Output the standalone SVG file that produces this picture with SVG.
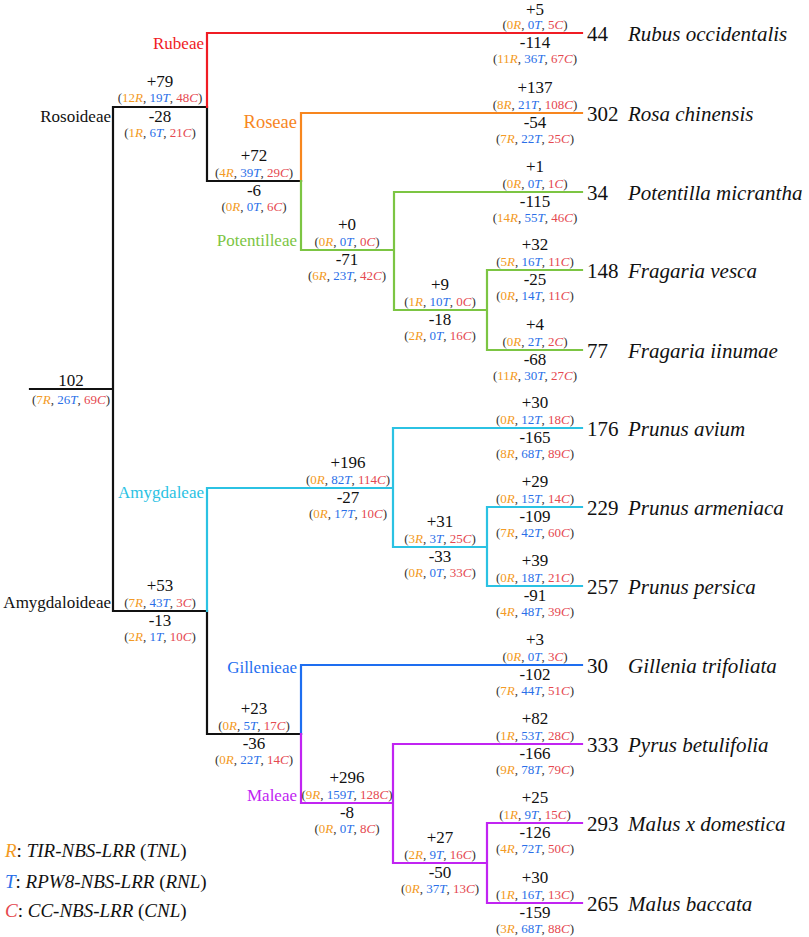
<svg xmlns="http://www.w3.org/2000/svg" width="809" height="937" viewBox="0 0 809 937">
<style>
text{font-family:"Liberation Serif","Times New Roman",serif;fill:#111}
.n{font-size:17px;text-anchor:middle}
.s{font-size:13px;text-anchor:middle;fill:#333}
.i{font-style:italic}
.r{fill:#f39a24}
.t{fill:#2a6fe8}
.c{fill:#e5484f}
.cnt{font-size:21px}
.sp{font-size:21px;font-style:italic}
.cl{font-size:17px;text-anchor:end}
.lg{font-size:19px}
.ln{fill:none;stroke-width:2.2;stroke-linecap:square}
</style>
<g id="connectors">
<path class="ln" stroke="#111" d="M30,389H113M113,107V611M113,107H207V181H301M113,611H207V734H301"/>
<path class="ln" stroke="#f01c24" d="M207,107V33H582"/>
<path class="ln" stroke="#f7861e" d="M301,181V113H582"/>
<path class="ln" stroke="#7cc543" d="M301,181V250H394M394,192V310M394,192H582M394,310H487M487,270V350M487,270H582M487,350H582"/>
<path class="ln" stroke="#2bc2e3" d="M207,611V488H393M393,428V547M393,428H582M393,547H487M487,507V586M487,507H582M487,586H582"/>
<path class="ln" stroke="#1e6ef0" d="M301,734V665H582"/>
<path class="ln" stroke="#c124f2" d="M301,734V803H393M393,744V863M393,744H582M393,863H487M487,823V903M487,823H582M487,903H582"/>
</g>
<g id="clade-labels">
<text class="cl" x="204" y="49" style="fill:#f01c24">Rubeae</text>
<text class="cl" x="111" y="122">Rosoideae</text>
<text class="cl" x="297" y="128" style="fill:#f7861e;font-size:18.5px">Roseae</text>
<text class="cl" x="297" y="246" style="fill:#7cc543">Potentilleae</text>
<text class="cl" x="204" y="498" style="fill:#2bc2e3">Amygdaleae</text>
<text class="cl" x="111" y="608">Amygdaloideae</text>
<text class="cl" x="297" y="673" style="fill:#1e6ef0">Gillenieae</text>
<text class="cl" x="297" y="801" style="fill:#c124f2">Maleae</text>
</g>
<g id="root">
<text class="n" x="71" y="386">102</text>
<text class="s" x="71" y="404">(<tspan class="r">7<tspan class="i">R</tspan></tspan>, <tspan class="t">26<tspan class="i">T</tspan></tspan>, <tspan class="c">69<tspan class="i">C</tspan></tspan>)</text>
</g>
<g id="rosoideae">
<text class="n" x="160" y="87">+79</text>
<text class="s" x="160" y="102">(<tspan class="r">12<tspan class="i">R</tspan></tspan>, <tspan class="t">19<tspan class="i">T</tspan></tspan>, <tspan class="c">48<tspan class="i">C</tspan></tspan>)</text>
<text class="n" x="160" y="122">-28</text>
<text class="s" x="160" y="137">(<tspan class="r">1<tspan class="i">R</tspan></tspan>, <tspan class="t">6<tspan class="i">T</tspan></tspan>, <tspan class="c">21<tspan class="i">C</tspan></tspan>)</text>
</g>
<g id="node-roseae-potentilleae">
<text class="n" x="254" y="161">+72</text>
<text class="s" x="254" y="176.5">(<tspan class="r">4<tspan class="i">R</tspan></tspan>, <tspan class="t">39<tspan class="i">T</tspan></tspan>, <tspan class="c">29<tspan class="i">C</tspan></tspan>)</text>
<text class="n" x="254" y="195.5">-6</text>
<text class="s" x="254" y="211">(<tspan class="r">0<tspan class="i">R</tspan></tspan>, <tspan class="t">0<tspan class="i">T</tspan></tspan>, <tspan class="c">6<tspan class="i">C</tspan></tspan>)</text>
</g>
<g id="potentilleae">
<text class="n" x="347" y="230">+0</text>
<text class="s" x="347" y="245.5">(<tspan class="r">0<tspan class="i">R</tspan></tspan>, <tspan class="t">0<tspan class="i">T</tspan></tspan>, <tspan class="c">0<tspan class="i">C</tspan></tspan>)</text>
<text class="n" x="347" y="264.5">-71</text>
<text class="s" x="347" y="280">(<tspan class="r">6<tspan class="i">R</tspan></tspan>, <tspan class="t">23<tspan class="i">T</tspan></tspan>, <tspan class="c">42<tspan class="i">C</tspan></tspan>)</text>
</g>
<g id="fragaria">
<text class="n" x="440" y="290">+9</text>
<text class="s" x="440" y="305.5">(<tspan class="r">1<tspan class="i">R</tspan></tspan>, <tspan class="t">10<tspan class="i">T</tspan></tspan>, <tspan class="c">0<tspan class="i">C</tspan></tspan>)</text>
<text class="n" x="440" y="324.5">-18</text>
<text class="s" x="440" y="340">(<tspan class="r">2<tspan class="i">R</tspan></tspan>, <tspan class="t">0<tspan class="i">T</tspan></tspan>, <tspan class="c">16<tspan class="i">C</tspan></tspan>)</text>
</g>
<g id="amygdaleae">
<text class="n" x="348" y="468">+196</text>
<text class="s" x="348" y="483.5">(<tspan class="r">0<tspan class="i">R</tspan></tspan>, <tspan class="t">82<tspan class="i">T</tspan></tspan>, <tspan class="c">114<tspan class="i">C</tspan></tspan>)</text>
<text class="n" x="348" y="502.5">-27</text>
<text class="s" x="348" y="518">(<tspan class="r">0<tspan class="i">R</tspan></tspan>, <tspan class="t">17<tspan class="i">T</tspan></tspan>, <tspan class="c">10<tspan class="i">C</tspan></tspan>)</text>
</g>
<g id="prunus-node">
<text class="n" x="440" y="527">+31</text>
<text class="s" x="440" y="542.5">(<tspan class="r">3<tspan class="i">R</tspan></tspan>, <tspan class="t">3<tspan class="i">T</tspan></tspan>, <tspan class="c">25<tspan class="i">C</tspan></tspan>)</text>
<text class="n" x="440" y="561.5">-33</text>
<text class="s" x="440" y="577">(<tspan class="r">0<tspan class="i">R</tspan></tspan>, <tspan class="t">0<tspan class="i">T</tspan></tspan>, <tspan class="c">33<tspan class="i">C</tspan></tspan>)</text>
</g>
<g id="amygdaloideae">
<text class="n" x="160" y="591">+53</text>
<text class="s" x="160" y="606.5">(<tspan class="r">7<tspan class="i">R</tspan></tspan>, <tspan class="t">43<tspan class="i">T</tspan></tspan>, <tspan class="c">3<tspan class="i">C</tspan></tspan>)</text>
<text class="n" x="160" y="625.5">-13</text>
<text class="s" x="160" y="641">(<tspan class="r">2<tspan class="i">R</tspan></tspan>, <tspan class="t">1<tspan class="i">T</tspan></tspan>, <tspan class="c">10<tspan class="i">C</tspan></tspan>)</text>
</g>
<g id="node-gillenieae-maleae">
<text class="n" x="254" y="714">+23</text>
<text class="s" x="254" y="729.5">(<tspan class="r">0<tspan class="i">R</tspan></tspan>, <tspan class="t">5<tspan class="i">T</tspan></tspan>, <tspan class="c">17<tspan class="i">C</tspan></tspan>)</text>
<text class="n" x="254" y="748.5">-36</text>
<text class="s" x="254" y="764">(<tspan class="r">0<tspan class="i">R</tspan></tspan>, <tspan class="t">22<tspan class="i">T</tspan></tspan>, <tspan class="c">14<tspan class="i">C</tspan></tspan>)</text>
</g>
<g id="maleae">
<text class="n" x="347" y="783">+296</text>
<text class="s" x="347" y="798.5">(<tspan class="r">9<tspan class="i">R</tspan></tspan>, <tspan class="t">159<tspan class="i">T</tspan></tspan>, <tspan class="c">128<tspan class="i">C</tspan></tspan>)</text>
<text class="n" x="347" y="817.5">-8</text>
<text class="s" x="347" y="833">(<tspan class="r">0<tspan class="i">R</tspan></tspan>, <tspan class="t">0<tspan class="i">T</tspan></tspan>, <tspan class="c">8<tspan class="i">C</tspan></tspan>)</text>
</g>
<g id="malus-node">
<text class="n" x="440" y="843">+27</text>
<text class="s" x="440" y="858.5">(<tspan class="r">2<tspan class="i">R</tspan></tspan>, <tspan class="t">9<tspan class="i">T</tspan></tspan>, <tspan class="c">16<tspan class="i">C</tspan></tspan>)</text>
<text class="n" x="440" y="877.5">-50</text>
<text class="s" x="440" y="893">(<tspan class="r">0<tspan class="i">R</tspan></tspan>, <tspan class="t">37<tspan class="i">T</tspan></tspan>, <tspan class="c">13<tspan class="i">C</tspan></tspan>)</text>
</g>
<g id="rubus">
<text class="n" x="535" y="14.5">+5</text>
<text class="s" x="535" y="29">(<tspan class="r">0<tspan class="i">R</tspan></tspan>, <tspan class="t">0<tspan class="i">T</tspan></tspan>, <tspan class="c">5<tspan class="i">C</tspan></tspan>)</text>
<text class="n" x="535" y="47.5">-114</text>
<text class="s" x="535" y="63">(<tspan class="r">11<tspan class="i">R</tspan></tspan>, <tspan class="t">36<tspan class="i">T</tspan></tspan>, <tspan class="c">67<tspan class="i">C</tspan></tspan>)</text>
<text class="cnt" x="587" y="41">44</text>
<text class="sp" x="628" y="41">Rubus occidentalis</text>
</g>
<g id="rosa">
<text class="n" x="535" y="93">+137</text>
<text class="s" x="535" y="108.5">(<tspan class="r">8<tspan class="i">R</tspan></tspan>, <tspan class="t">21<tspan class="i">T</tspan></tspan>, <tspan class="c">108<tspan class="i">C</tspan></tspan>)</text>
<text class="n" x="535" y="127.5">-54</text>
<text class="s" x="535" y="143">(<tspan class="r">7<tspan class="i">R</tspan></tspan>, <tspan class="t">22<tspan class="i">T</tspan></tspan>, <tspan class="c">25<tspan class="i">C</tspan></tspan>)</text>
<text class="cnt" x="587" y="121">302</text>
<text class="sp" x="628" y="121">Rosa chinensis</text>
</g>
<g id="potentilla">
<text class="n" x="535" y="172">+1</text>
<text class="s" x="535" y="187.5">(<tspan class="r">0<tspan class="i">R</tspan></tspan>, <tspan class="t">0<tspan class="i">T</tspan></tspan>, <tspan class="c">1<tspan class="i">C</tspan></tspan>)</text>
<text class="n" x="535" y="206.5">-115</text>
<text class="s" x="535" y="222">(<tspan class="r">14<tspan class="i">R</tspan></tspan>, <tspan class="t">55<tspan class="i">T</tspan></tspan>, <tspan class="c">46<tspan class="i">C</tspan></tspan>)</text>
<text class="cnt" x="587" y="200">34</text>
<text class="sp" x="628" y="200">Potentilla micrantha</text>
</g>
<g id="fragaria-vesca">
<text class="n" x="535" y="250">+32</text>
<text class="s" x="535" y="265.5">(<tspan class="r">5<tspan class="i">R</tspan></tspan>, <tspan class="t">16<tspan class="i">T</tspan></tspan>, <tspan class="c">11<tspan class="i">C</tspan></tspan>)</text>
<text class="n" x="535" y="284.5">-25</text>
<text class="s" x="535" y="300">(<tspan class="r">0<tspan class="i">R</tspan></tspan>, <tspan class="t">14<tspan class="i">T</tspan></tspan>, <tspan class="c">11<tspan class="i">C</tspan></tspan>)</text>
<text class="cnt" x="587" y="278">148</text>
<text class="sp" x="628" y="278">Fragaria vesca</text>
</g>
<g id="fragaria-iinumae">
<text class="n" x="535" y="330">+4</text>
<text class="s" x="535" y="345.5">(<tspan class="r">0<tspan class="i">R</tspan></tspan>, <tspan class="t">2<tspan class="i">T</tspan></tspan>, <tspan class="c">2<tspan class="i">C</tspan></tspan>)</text>
<text class="n" x="535" y="364.5">-68</text>
<text class="s" x="535" y="380">(<tspan class="r">11<tspan class="i">R</tspan></tspan>, <tspan class="t">30<tspan class="i">T</tspan></tspan>, <tspan class="c">27<tspan class="i">C</tspan></tspan>)</text>
<text class="cnt" x="587" y="358">77</text>
<text class="sp" x="628" y="358">Fragaria iinumae</text>
</g>
<g id="prunus-avium">
<text class="n" x="535" y="408">+30</text>
<text class="s" x="535" y="423.5">(<tspan class="r">0<tspan class="i">R</tspan></tspan>, <tspan class="t">12<tspan class="i">T</tspan></tspan>, <tspan class="c">18<tspan class="i">C</tspan></tspan>)</text>
<text class="n" x="535" y="442.5">-165</text>
<text class="s" x="535" y="458">(<tspan class="r">8<tspan class="i">R</tspan></tspan>, <tspan class="t">68<tspan class="i">T</tspan></tspan>, <tspan class="c">89<tspan class="i">C</tspan></tspan>)</text>
<text class="cnt" x="587" y="436">176</text>
<text class="sp" x="628" y="436">Prunus avium</text>
</g>
<g id="prunus-armeniaca">
<text class="n" x="535" y="487">+29</text>
<text class="s" x="535" y="502.5">(<tspan class="r">0<tspan class="i">R</tspan></tspan>, <tspan class="t">15<tspan class="i">T</tspan></tspan>, <tspan class="c">14<tspan class="i">C</tspan></tspan>)</text>
<text class="n" x="535" y="521.5">-109</text>
<text class="s" x="535" y="537">(<tspan class="r">7<tspan class="i">R</tspan></tspan>, <tspan class="t">42<tspan class="i">T</tspan></tspan>, <tspan class="c">60<tspan class="i">C</tspan></tspan>)</text>
<text class="cnt" x="587" y="515">229</text>
<text class="sp" x="628" y="515">Prunus armeniaca</text>
</g>
<g id="prunus-persica">
<text class="n" x="535" y="566">+39</text>
<text class="s" x="535" y="581.5">(<tspan class="r">0<tspan class="i">R</tspan></tspan>, <tspan class="t">18<tspan class="i">T</tspan></tspan>, <tspan class="c">21<tspan class="i">C</tspan></tspan>)</text>
<text class="n" x="535" y="600.5">-91</text>
<text class="s" x="535" y="616">(<tspan class="r">4<tspan class="i">R</tspan></tspan>, <tspan class="t">48<tspan class="i">T</tspan></tspan>, <tspan class="c">39<tspan class="i">C</tspan></tspan>)</text>
<text class="cnt" x="587" y="594">257</text>
<text class="sp" x="628" y="594">Prunus persica</text>
</g>
<g id="gillenia">
<text class="n" x="535" y="645">+3</text>
<text class="s" x="535" y="660.5">(<tspan class="r">0<tspan class="i">R</tspan></tspan>, <tspan class="t">0<tspan class="i">T</tspan></tspan>, <tspan class="c">3<tspan class="i">C</tspan></tspan>)</text>
<text class="n" x="535" y="679.5">-102</text>
<text class="s" x="535" y="695">(<tspan class="r">7<tspan class="i">R</tspan></tspan>, <tspan class="t">44<tspan class="i">T</tspan></tspan>, <tspan class="c">51<tspan class="i">C</tspan></tspan>)</text>
<text class="cnt" x="587" y="673">30</text>
<text class="sp" x="628" y="673">Gillenia trifoliata</text>
</g>
<g id="pyrus">
<text class="n" x="535" y="724">+82</text>
<text class="s" x="535" y="739.5">(<tspan class="r">1<tspan class="i">R</tspan></tspan>, <tspan class="t">53<tspan class="i">T</tspan></tspan>, <tspan class="c">28<tspan class="i">C</tspan></tspan>)</text>
<text class="n" x="535" y="758.5">-166</text>
<text class="s" x="535" y="774">(<tspan class="r">9<tspan class="i">R</tspan></tspan>, <tspan class="t">78<tspan class="i">T</tspan></tspan>, <tspan class="c">79<tspan class="i">C</tspan></tspan>)</text>
<text class="cnt" x="587" y="752">333</text>
<text class="sp" x="628" y="752">Pyrus betulifolia</text>
</g>
<g id="malus-domestica">
<text class="n" x="535" y="803">+25</text>
<text class="s" x="535" y="818.5">(<tspan class="r">1<tspan class="i">R</tspan></tspan>, <tspan class="t">9<tspan class="i">T</tspan></tspan>, <tspan class="c">15<tspan class="i">C</tspan></tspan>)</text>
<text class="n" x="535" y="837.5">-126</text>
<text class="s" x="535" y="853">(<tspan class="r">4<tspan class="i">R</tspan></tspan>, <tspan class="t">72<tspan class="i">T</tspan></tspan>, <tspan class="c">50<tspan class="i">C</tspan></tspan>)</text>
<text class="cnt" x="587" y="831">293</text>
<text class="sp" x="628" y="831">Malus x domestica</text>
</g>
<g id="malus-baccata">
<text class="n" x="535" y="883">+30</text>
<text class="s" x="535" y="898.5">(<tspan class="r">1<tspan class="i">R</tspan></tspan>, <tspan class="t">16<tspan class="i">T</tspan></tspan>, <tspan class="c">13<tspan class="i">C</tspan></tspan>)</text>
<text class="n" x="535" y="917.5">-159</text>
<text class="s" x="535" y="933">(<tspan class="r">3<tspan class="i">R</tspan></tspan>, <tspan class="t">68<tspan class="i">T</tspan></tspan>, <tspan class="c">88<tspan class="i">C</tspan></tspan>)</text>
<text class="cnt" x="587" y="911">265</text>
<text class="sp" x="628" y="911">Malus baccata</text>
</g>
<g id="legend">
<text class="lg" x="5" y="857"><tspan class="i r">R</tspan>: <tspan class="i">TIR-NBS-LRR</tspan> (<tspan class="i">TNL</tspan>)</text>
<text class="lg" x="5" y="888"><tspan class="i t">T</tspan>: <tspan class="i">RPW8-NBS-LRR</tspan> (<tspan class="i">RNL</tspan>)</text>
<text class="lg" x="5" y="917"><tspan class="i c">C</tspan>: <tspan class="i">CC-NBS-LRR</tspan> (<tspan class="i">CNL</tspan>)</text>
</g>
</svg>
